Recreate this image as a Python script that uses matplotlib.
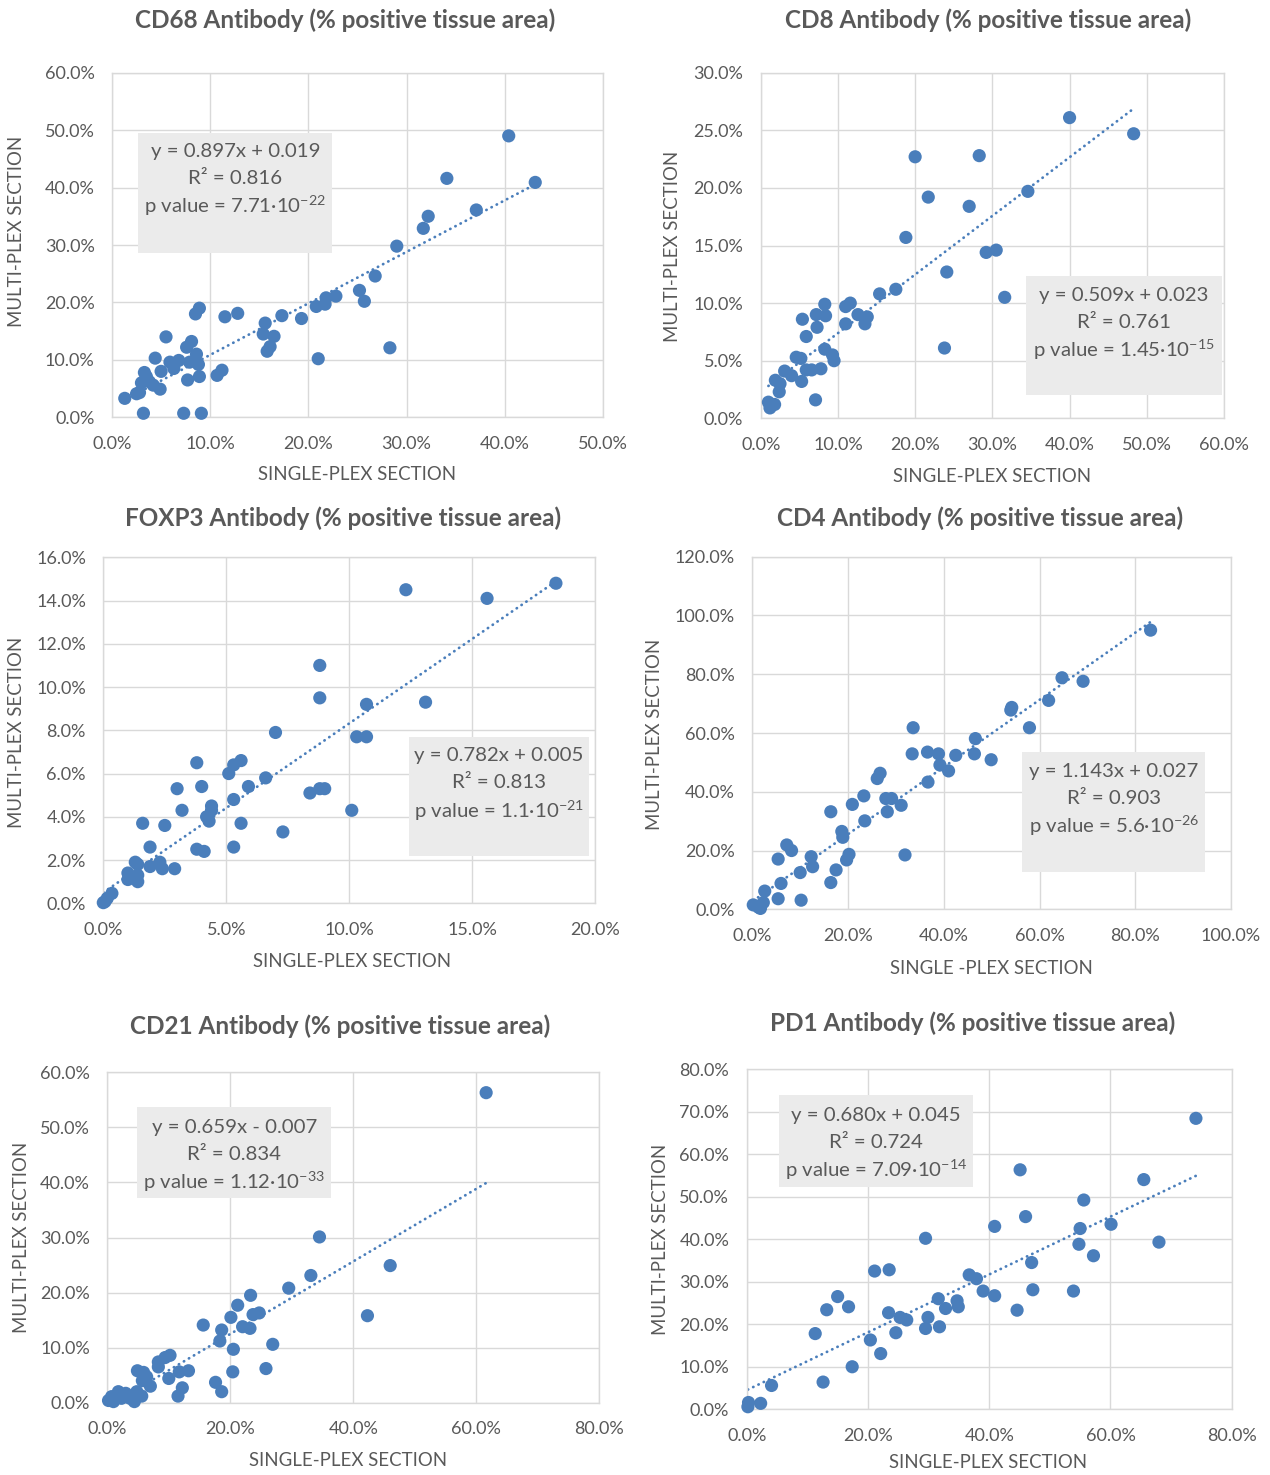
import matplotlib
matplotlib.use("Agg")
import matplotlib.pyplot as plt
from matplotlib.patches import Rectangle
import numpy as np

plt.rcParams['font.family'] = ['Lato', 'DejaVu Sans']
plt.rcParams['mathtext.default'] = 'regular'

# ---------------- DATA (values in %) ----------------
cd68_x = [40.4, 34.1, 43.1, 37.1, 32.2, 31.7, 29.0, 26.8, 25.2, 25.7, 22.8, 21.8, 21.7, 20.8,
          28.3, 21.0, 19.3, 17.3, 15.6, 15.4, 16.5, 16.1, 15.8, 12.8, 11.5, 8.9, 8.5, 5.5,
          8.1, 7.6, 8.6, 4.4, 6.8, 5.9, 7.9, 8.8, 6.3, 5.0, 11.2, 10.7, 7.7, 8.9, 3.3, 3.0,
          3.8, 4.2, 4.9, 2.5, 2.8, 1.3, 3.2, 7.3, 9.1, 3.5]
cd68_y = [49.0, 41.6, 40.9, 36.1, 35.0, 32.9, 29.8, 24.6, 22.1, 20.2, 21.1, 20.8, 19.7, 19.3,
          12.1, 10.2, 17.2, 17.7, 16.4, 14.5, 14.1, 12.3, 11.5, 18.1, 17.5, 19.0, 18.0, 14.0,
          13.2, 12.2, 11.0, 10.3, 9.9, 9.6, 9.6, 9.2, 8.5, 8.0, 8.2, 7.3, 6.5, 7.1, 7.8, 6.0,
          6.2, 5.6, 4.9, 4.1, 4.3, 3.3, 0.7, 0.7, 0.7, 7.1]

cd8_x = [40.0, 48.3, 20.0, 28.3, 21.7, 34.6, 27.0, 18.8, 29.2, 30.5, 24.1, 31.6, 23.8, 17.5,
         15.4, 11.0, 11.6, 12.6, 13.8, 13.5, 11.0, 8.3, 7.2, 8.4, 5.4, 7.3, 5.9, 8.3, 9.3,
         9.5, 4.6, 5.2, 3.1, 4.0, 5.3, 6.6, 7.8, 5.9, 1.9, 2.5, 2.4, 7.1, 1.0, 1.2, 1.8]
cd8_y = [26.1, 24.7, 22.7, 22.8, 19.2, 19.7, 18.4, 15.7, 14.4, 14.6, 12.7, 10.5, 6.1, 11.2,
         10.8, 9.7, 10.0, 9.0, 8.8, 8.2, 8.2, 9.9, 9.0, 8.9, 8.6, 7.9, 7.1, 6.0, 5.5,
         5.0, 5.3, 5.2, 4.1, 3.7, 3.2, 4.2, 4.3, 4.2, 3.3, 3.0, 2.3, 1.6, 1.4, 0.9, 1.2]

foxp3_x = [18.4, 12.3, 15.6, 8.8, 8.8, 10.7, 13.1, 7.0, 10.3, 10.7, 8.4, 8.8, 9.0, 10.1, 7.3,
           6.6, 5.9, 5.6, 5.3, 5.1, 5.3, 5.6, 5.3, 3.8, 4.0, 3.0, 4.4, 4.4, 4.2, 4.3, 3.2,
           2.5, 1.6, 1.9, 3.8, 4.1, 1.3, 1.4, 1.9, 2.3, 2.4, 2.9, 1.0, 1.4, 1.0, 1.4, 0.35,
           0.16, 0.07, 0.0]
foxp3_y = [14.8, 14.5, 14.1, 11.0, 9.5, 9.2, 9.3, 7.9, 7.7, 7.7, 5.1, 5.3, 5.3, 4.3, 3.3,
           5.8, 5.4, 6.6, 6.4, 6.0, 4.8, 3.7, 2.6, 6.5, 5.4, 5.3, 4.5, 4.3, 4.0, 3.8, 4.3,
           3.6, 3.7, 2.6, 2.5, 2.4, 1.9, 1.8, 1.7, 1.9, 1.6, 1.6, 1.4, 1.3, 1.1, 1.0, 0.46,
           0.23, 0.08, 0.03]

cd4_x = [83.2, 64.7, 69.1, 61.9, 54.2, 54.0, 57.9, 33.6, 46.6, 33.4, 36.6, 38.9, 42.5, 46.4,
         49.9, 39.2, 41.0, 36.7, 26.7, 26.1, 23.3, 27.9, 29.1, 31.1, 28.2, 20.9, 23.5, 16.4,
         18.7, 18.9, 31.9, 20.2, 19.7, 17.5, 16.4, 12.3, 12.6, 10.0, 7.2, 8.2, 5.4, 6.0,
         10.2, 5.4, 2.6, 2.3, 0.2, 1.3, 1.7]
cd4_y = [95.0, 78.8, 77.6, 71.1, 68.7, 67.8, 61.8, 61.8, 58.1, 52.9, 53.5, 52.9, 52.4, 52.9,
         50.9, 49.1, 47.1, 43.3, 46.3, 44.5, 38.6, 37.7, 37.7, 35.4, 33.2, 35.7, 30.1, 33.2,
         26.5, 24.5, 18.5, 18.7, 16.8, 13.4, 9.1, 17.9, 14.5, 12.5, 21.9, 20.0, 17.1, 8.8,
         3.1, 3.6, 6.2, 2.3, 1.5, 0.7, 0.3]

cd21_x = [61.6, 34.5, 46.0, 33.1, 29.5, 42.3, 23.3, 21.2, 24.7, 23.7, 20.1, 22.0, 23.2, 18.6,
          15.6, 18.3, 20.5, 26.9, 25.8, 20.4, 17.6, 18.6, 10.2, 9.4, 8.3, 8.3, 13.2, 11.7,
          10.0, 12.2, 11.5, 4.9, 5.9, 5.7, 7.0, 4.8, 5.6, 4.4, 3.0, 1.8, 2.3, 0.7, 0.2, 1.0,
          3.7, 6.4]
cd21_y = [56.3, 30.1, 24.9, 23.1, 20.8, 15.8, 19.5, 17.7, 16.3, 16.0, 15.5, 13.8, 13.5, 13.2,
          14.1, 11.2, 9.7, 10.6, 6.2, 5.6, 3.7, 2.0, 8.6, 8.2, 7.4, 6.5, 5.8, 5.6,
          4.4, 2.7, 1.2, 5.8, 5.5, 4.0, 3.0, 2.0, 1.2, 0.2, 1.7, 2.0, 0.8, 1.1, 0.4, 0.2,
          0.8, 4.7]

pd1_x = [74.1, 45.1, 65.5, 55.6, 46.0, 40.9, 60.1, 55.0, 54.8, 68.0, 57.2, 29.5, 47.0, 21.1,
         23.5, 36.7, 37.9, 47.2, 53.9, 39.0, 40.9, 31.6, 34.7, 34.9, 32.8, 44.6, 15.0, 13.2,
         16.8, 23.4, 25.3, 26.4, 29.9, 29.5, 31.8, 24.6, 20.4, 22.1, 11.3, 17.4, 12.6, 4.1,
         2.3, 0.3, 0.2]
pd1_y = [68.4, 56.3, 54.0, 49.2, 45.3, 43.0, 43.5, 42.5, 38.8, 39.3, 36.1, 40.2, 34.5, 32.5,
         32.8, 31.6, 30.7, 28.1, 27.8, 27.8, 26.7, 26.0, 25.5, 24.1, 23.7, 23.3, 26.5, 23.4,
         24.1, 22.7, 21.6, 21.0, 21.6, 19.0, 19.4, 18.0, 16.3, 13.1, 17.8, 10.0, 6.4, 5.6,
         1.4, 1.6, 0.6]

titles = ["CD68 Antibody (% positive tissue area)", "CD8 Antibody (% positive tissue area)",
          "FOXP3 Antibody (% positive tissue area)", "CD4 Antibody (% positive tissue area)",
          "CD21 Antibody (% positive tissue area)", "PD1 Antibody (% positive tissue area)"]
xlabels = ["SINGLE-PLEX SECTION", "SINGLE-PLEX SECTION", "SINGLE-PLEX SECTION",
           "SINGLE -PLEX SECTION", "SINGLE-PLEX SECTION", "SINGLE-PLEX SECTION"]
ylabel = "MULTI-PLEX SECTION"
slopes = [0.897, 0.509, 0.782, 1.143, 0.659, 0.680]
intercepts = [0.019, 0.023, 0.005, 0.027, -0.007, 0.045]
eq_text = ["y = 0.897x + 0.019", "y = 0.509x + 0.023", "y = 0.782x + 0.005",
           "y = 1.143x + 0.027", "y = 0.659x - 0.007", "y = 0.680x + 0.045"]
r2_text = ["R² = 0.816", "R² = 0.761", "R² = 0.813", "R² = 0.903", "R² = 0.834", "R² = 0.724"]
p_mant = ["7.71", "1.45", "1.1", "5.6", "1.12", "7.09"]
p_exp = ["-22", "-15", "-21", "-26", "-33", "-14"]

xlims = [(0, 50, 10), (0, 60, 10), (0, 20, 5), (0, 100, 20), (0, 80, 20), (0, 80, 20)]
ylims = [(0, 60, 10), (0, 30, 5), (0, 16, 2), (0, 120, 20), (0, 60, 10), (0, 80, 10)]

xs = [cd68_x, cd8_x, foxp3_x, cd4_x, cd21_x, pd1_x]
ys = [cd68_y, cd8_y, foxp3_y, cd4_y, cd21_y, pd1_y]

# ---------------- LAYOUT (pixels) ----------------
W, H = 1270, 1475
axes_px = [(112, 603, 72.7, 417.3), (760.7, 1224, 72.7, 418.3),
           (103.3, 595.3, 557.3, 903.3), (752.3, 1231, 556.7, 909.3),
           (107.3, 599.3, 1072.3, 1402.7), (746.7, 1231.7, 1069, 1409.3)]
title_pos = [(345, 20), (988, 20), (343, 518), (980, 518), (340, 1026), (973, 1023)]
xlab_pos = [(357, 474), (992, 477), (352, 961), (991, 968), (348, 1461), (988, 1462)]
ylab_pos = [(17, 231), (673, 246), (17, 732), (655, 734), (22, 1237), (660, 1239)]
box_px = [(138.3, 332.3, 132.7, 252.7), (1026, 1221.7, 276, 395),
          (408.7, 589.3, 736.7, 855.7), (1022, 1205.3, 752, 871.7),
          (137.3, 331, 1106.7, 1198.3), (779, 973, 1094.7, 1186.7)]
box_lines_y = [(151, 179, 206), (295, 322, 350), (756, 783, 811),
               (772, 799, 826), (1127, 1154, 1182), (1115, 1142, 1170)]

TXT = '#595959'
GRID = '#D9D9D9'
BLUE = '#4A7EBB'
BOXC = '#EBEBEB'

fig = plt.figure(figsize=(W / 100, H / 100), dpi=100)

def fx(px):
    return px / W

def fy(py):
    return 1 - py / H

for i in range(6):
    l, r, t, b = axes_px[i]
    ax = fig.add_axes([fx(l), fy(b), (r - l) / W, (b - t) / H])
    x0, x1, xs_ = xlims[i]
    y0, y1, ys_ = ylims[i]
    ax.set_xlim(x0, x1)
    ax.set_ylim(y0, y1)
    xt = np.arange(x0, x1 + 0.001, xs_)
    yt = np.arange(y0, y1 + 0.001, ys_)
    ax.set_xticks(xt)
    ax.set_yticks(yt)
    ax.set_xticklabels([f"{v:.1f}%" for v in xt])
    ax.set_yticklabels([f"{v:.1f}%" for v in yt])
    ax.tick_params(length=0, labelsize=13, labelcolor=TXT)
    ax.tick_params(axis='x', pad=13.5)
    ax.tick_params(axis='y', pad=12.5)
    ax.grid(True, color=GRID, lw=1.0)
    ax.set_axisbelow(True)
    for sp in ax.spines.values():
        sp.set_color(GRID)
        sp.set_linewidth(1.0)

    xd = np.array(xs[i])
    yd = np.array(ys[i])
    ax.scatter(xd, yd, s=90, color=BLUE, edgecolors='none', zorder=3, clip_on=False)

    # trendline
    tx = np.array([xd.min(), xd.max()])
    ty = slopes[i] * tx + intercepts[i] * 100
    ax.plot(tx, ty, color=BLUE, lw=2.0, linestyle=(0, (0.1, 2.0)),
            dash_capstyle='round', zorder=2.5)

    # annotation box
    bl, br, bt, bb = box_px[i]
    fig.patches.append(Rectangle((fx(bl), fy(bb)), (br - bl) / W, (bb - bt) / H,
                                 transform=fig.transFigure, facecolor=BOXC,
                                 edgecolor='none', zorder=5))
    cx = (bl + br) / 2
    ly = box_lines_y[i]
    fig.text(fx(cx), fy(ly[0]), eq_text[i], ha='center', va='center',
             fontsize=14.7, color=TXT, zorder=6)
    fig.text(fx(cx), fy(ly[1]), r2_text[i], ha='center', va='center',
             fontsize=14.7, color=TXT, zorder=6)
    fig.text(fx(cx), fy(ly[2]), "p value = " + p_mant[i] + "·10$^{" + p_exp[i] + "}$",
             ha='center', va='center', fontsize=14.7, color=TXT, zorder=6)

    # titles and axis labels
    fig.text(fx(title_pos[i][0]), fy(title_pos[i][1]), titles[i], ha='center', va='center',
             fontsize=17.5, fontweight='bold', color=TXT)
    fig.text(fx(xlab_pos[i][0]), fy(xlab_pos[i][1]), xlabels[i], ha='center', va='center',
             fontsize=13.4, color=TXT)
    fig.text(fx(ylab_pos[i][0]), fy(ylab_pos[i][1]), ylabel, ha='center', va='center',
             fontsize=13.4, color=TXT, rotation=90)

fig.savefig("out.png", dpi=100, facecolor='white')
